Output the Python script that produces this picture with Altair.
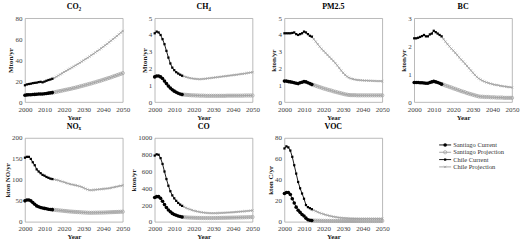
import altair as alt
import pandas as pd

YEARS_CUR = list(range(2000, 2015))
YEARS_PROJ = list(range(2014, 2051))
SERIES = ["Santiago Current", "Santiago Projection", "Chile Current", "Chile Projection"]
X_TICKS = [2000, 2010, 2020, 2030, 2040, 2050]

# ---------------- CO2 (Mton/yr)
CO2_SC = [6.5, 6.8, 7.0, 7.0, 7.2, 7.3, 7.4, 7.6, 7.7, 7.6, 7.9, 8.2, 8.5, 8.7, 9.0]
CO2_SP = [9.0, 9.3, 9.7, 10.1, 10.5, 10.9, 11.3, 11.7, 12.1, 12.5, 12.9, 13.4, 13.8, 14.3,
          14.8, 15.3, 15.8, 16.3, 16.8, 17.3, 17.8, 18.4, 18.9, 19.5, 20.0, 20.6, 21.2, 21.8,
          22.4, 23.0, 23.6, 24.3, 24.9, 25.6, 26.2, 26.9, 27.6]
CO2_CC = [16.0, 16.8, 17.2, 17.5, 18.0, 18.3, 18.5, 19.0, 19.3, 18.8, 19.5, 20.3, 21.0, 21.5, 22.2]
CO2_CP = [22.2, 23.0, 24.1, 25.2, 26.3, 27.4, 28.6, 29.7, 30.8, 31.8, 32.9, 34.0, 35.1, 36.2,
          37.4, 38.6, 39.8, 41.0, 42.2, 43.4, 44.7, 46.0, 47.3, 48.6, 49.9, 51.3, 52.7, 54.1,
          55.5, 57.0, 58.5, 60.0, 61.5, 63.0, 64.6, 66.2, 67.8]

# ---------------- CH4 (Mton/yr)
CH4_SC = [1.50, 1.55, 1.55, 1.50, 1.40, 1.25, 1.10, 0.95, 0.83, 0.73, 0.65, 0.58, 0.52, 0.48, 0.45]
CH4_SP = [0.45, 0.44, 0.43, 0.42, 0.41, 0.40, 0.40, 0.39, 0.39, 0.38, 0.38, 0.38,
          0.37, 0.37, 0.37, 0.37, 0.37, 0.37, 0.37, 0.37, 0.37, 0.37, 0.37,
          0.38, 0.38, 0.38, 0.38, 0.38, 0.38, 0.38, 0.38, 0.38,
          0.39, 0.39, 0.39, 0.39, 0.39]
CH4_CC = [4.10, 4.20, 4.15, 4.00, 3.75, 3.45, 3.05, 2.65, 2.30, 2.05, 1.90, 1.78, 1.70, 1.63, 1.57]
CH4_CP = [1.57, 1.53, 1.49, 1.46, 1.43, 1.41, 1.39, 1.38, 1.37, 1.36, 1.37, 1.38, 1.39, 1.41,
          1.42, 1.44, 1.45, 1.47, 1.48, 1.50, 1.51, 1.53, 1.54, 1.56, 1.57, 1.59, 1.60, 1.62,
          1.63, 1.65, 1.67, 1.68, 1.70, 1.72, 1.74, 1.76, 1.78]

# ---------------- PM2.5 (kton/yr)
PM_SC = [1.25, 1.25, 1.22, 1.20, 1.18, 1.15, 1.12, 1.10, 1.15, 1.18, 1.22, 1.20, 1.15, 1.10, 1.05]
PM_SP = [1.05, 1.01, 0.97, 0.93, 0.89, 0.85, 0.81, 0.78, 0.74, 0.71, 0.68, 0.64, 0.61, 0.58,
         0.55, 0.52, 0.49, 0.46, 0.44, 0.42, 0.41, 0.41, 0.41, 0.40, 0.40, 0.40, 0.40, 0.40,
         0.40, 0.40, 0.40, 0.40, 0.40, 0.40, 0.40, 0.40, 0.40]
PM_CC = [4.10, 4.10, 4.10, 4.10, 4.12, 4.15, 4.05, 4.00, 4.05, 4.10, 4.20, 4.15, 4.05, 3.95, 3.90]
PM_CP = [3.90, 3.75, 3.60, 3.45, 3.30, 3.17, 3.05, 2.93, 2.81, 2.69, 2.57, 2.45, 2.32, 2.18,
         2.03, 1.88, 1.74, 1.62, 1.52, 1.45, 1.40, 1.37, 1.34, 1.32, 1.31, 1.30, 1.29, 1.28,
         1.28, 1.27, 1.27, 1.26, 1.26, 1.25, 1.25, 1.25, 1.24]

# ---------------- BC (kton/yr)
BC_SC = [0.70, 0.70, 0.70, 0.69, 0.69, 0.68, 0.67, 0.67, 0.70, 0.72, 0.74, 0.72, 0.70, 0.67, 0.64]
BC_SP = [0.64, 0.62, 0.59, 0.57, 0.54, 0.52, 0.49, 0.47, 0.44, 0.42, 0.39, 0.37, 0.35, 0.32,
         0.30, 0.28, 0.26, 0.24, 0.22, 0.20, 0.19, 0.19, 0.18, 0.18, 0.18, 0.17, 0.17, 0.17,
         0.16, 0.16, 0.16, 0.16, 0.15, 0.15, 0.15, 0.15, 0.15]
BC_CC = [2.28, 2.28, 2.30, 2.33, 2.36, 2.40, 2.35, 2.35, 2.42, 2.45, 2.55, 2.50, 2.45, 2.40, 2.35]
BC_CP = [2.35, 2.25, 2.16, 2.07, 1.99, 1.91, 1.84, 1.76, 1.68, 1.60, 1.52, 1.45, 1.37, 1.29,
         1.21, 1.13, 1.05, 0.97, 0.90, 0.84, 0.80, 0.76, 0.73, 0.70, 0.68, 0.66, 0.64, 0.62,
         0.61, 0.60, 0.58, 0.57, 0.56, 0.55, 0.54, 0.53, 0.52]

# ---------------- NOx (kton NO/yr)
NOX_SC = [50, 52, 52, 50, 46, 42, 38, 36, 34, 33, 32, 31, 30, 29.5, 29]
NOX_SP = [29, 28.5, 28, 27.5, 27, 26.5, 26, 25.5, 25, 24.5, 24.2, 23.8, 23.5, 23.2, 22.9,
          22.6, 22.3, 22.0, 21.7, 21.5, 21.5, 21.6, 21.7, 21.8, 21.9, 22.0, 22.1, 22.3, 22.5,
          22.7, 22.9, 23.1, 23.3, 23.5, 23.7, 23.9, 24.1]
NOX_CC = [153, 155, 155, 150, 142, 135, 125, 120, 116, 112, 110, 107, 105, 103, 102]
NOX_CP = [102, 101, 100, 99, 97.5, 96, 94.5, 93, 91.5, 90, 89, 88, 87, 86, 84.5, 83, 81, 79,
          77, 75.5, 75.5, 76, 76.5, 77, 77.5, 78, 78.5, 79, 79.5, 80, 81, 82, 83, 84, 85, 86, 87]

# ---------------- CO (kton/yr)
CO_SC = [290, 300, 300, 280, 245, 205, 170, 140, 120, 100, 88, 78, 70, 63, 57]
CO_SP = [57, 55, 53, 51, 50, 49, 48, 47, 46.5, 46, 45.5, 45, 45, 45, 45, 45, 45, 45.5, 46,
         46.5, 47, 47.5, 48, 48.5, 49, 49.5, 50, 50.5, 51, 52, 52.5, 53, 54, 54.5, 55, 56, 57]
CO_CC = [790, 805, 800, 760, 690, 600, 510, 430, 365, 315, 280, 250, 225, 205, 190]
CO_CP = [190, 178, 167, 157, 148, 140, 133, 127, 122, 117, 113, 110, 107, 105, 104, 103, 103,
         103, 104, 105, 106, 107, 108, 110, 111, 113, 114, 116, 118, 120, 122, 124, 126, 128,
         130, 133, 135]

# ---------------- VOC (kton C/yr)
VOC_SC = [27, 28, 28, 26, 22, 18, 14, 11, 9, 7, 5.5, 3.5, 2, 1.5, 1.2]
VOC_SP = [1.2, 1.15, 1.1, 1.05, 1.0, 0.95, 0.92, 0.9, 0.88, 0.86, 0.85, 0.84, 0.83, 0.82,
          0.81, 0.8, 0.8, 0.8, 0.8, 0.8, 0.8, 0.8, 0.8, 0.8, 0.8, 0.8, 0.8, 0.8, 0.8, 0.8,
          0.8, 0.8, 0.8, 0.8, 0.8, 0.8, 0.8]
VOC_CC = [70, 72, 71, 68, 62, 54, 46, 38, 32, 27, 22, 16, 14, 13, 12]
VOC_CP = [12, 11, 10.1, 9.3, 8.6, 7.9, 7.3, 6.7, 6.2, 5.7, 5.3, 4.9, 4.6, 4.3, 4.0, 3.8, 3.6,
          3.5, 3.4, 3.3, 3.2, 3.2, 3.1, 3.1, 3.0, 3.0, 3.0, 3.0, 3.0, 3.0, 3.0, 3.0, 3.0, 3.0,
          3.0, 3.0, 3.0]

PANELS = [
    ("CO₂", "Mton/yr", 80, [0, 20, 40, 60, 80], CO2_SC, CO2_SP, CO2_CC, CO2_CP),
    ("CH₄", "Mton/yr", 5, [0, 1, 2, 3, 4, 5], CH4_SC, CH4_SP, CH4_CC, CH4_CP),
    ("PM2.5", "kton/yr", 5, [0, 1, 2, 3, 4, 5], PM_SC, PM_SP, PM_CC, PM_CP),
    ("BC", "kton/yr", 3, [0, 1, 2, 3], BC_SC, BC_SP, BC_CC, BC_CP),
    ("NOₓ", "kton NO/yr", 200, [0, 50, 100, 150, 200], NOX_SC, NOX_SP, NOX_CC, NOX_CP),
    ("CO", "kton/yr", 1000, [0, 200, 400, 600, 800, 1000], CO_SC, CO_SP, CO_CC, CO_CP),
    ("VOC", "kton C/yr", 80, [0, 20, 40, 60, 80], VOC_SC, VOC_SP, VOC_CC, VOC_CP),
]

FONT = "Liberation Serif"
GRAY = "#9e9e9e"
BLACK = "#000000"
W, H = 98, 84
SERIES_COLORS = [BLACK, GRAY, BLACK, GRAY]

# marker styles per series (shape, filled, colour, size)
MARKERS = {
    SERIES[1]: dict(shape="circle", filled=False, color=GRAY, size=11, strokeWidth=0.7),
    SERIES[3]: dict(shape="M-1,-1L1,1M-1,1L1,-1", filled=False, color=GRAY, size=5, strokeWidth=0.7),
    SERIES[0]: dict(shape="circle", filled=True, color=BLACK, size=13),
    SERIES[2]: dict(shape="square", filled=True, color=BLACK, size=5),
}


def marker_layers(base):
    return [base.transform_filter(alt.datum.series == s).mark_point(opacity=1, **style)
            for s, style in MARKERS.items()]


def panel(title, ytitle, ymax, yticks, sc, sp, cc, cp):
    rows = []
    for years, vals, s in [(YEARS_CUR, sc, SERIES[0]), (YEARS_PROJ, sp, SERIES[1]),
                           (YEARS_CUR, cc, SERIES[2]), (YEARS_PROJ, cp, SERIES[3])]:
        for yr, v in zip(years, vals):
            rows.append({"year": yr, "value": v, "series": s})
    df = pd.DataFrame(rows)

    x = alt.X("year:Q", scale=alt.Scale(domain=[2000, 2050], nice=False),
              axis=alt.Axis(values=X_TICKS, format="d", title="Year"))
    y = alt.Y("value:Q", scale=alt.Scale(domain=[0, ymax], nice=False),
              axis=alt.Axis(values=yticks, format="d", title=ytitle))
    base = alt.Chart(df).encode(x=x, y=y)

    lines = base.mark_line(strokeWidth=0.9).encode(
        color=alt.Color("series:N", scale=alt.Scale(domain=SERIES, range=SERIES_COLORS), legend=None),
        detail="series:N",
    )
    return alt.layer(lines, *marker_layers(base)).properties(
        width=W, height=H,
        title=alt.TitleParams(title, anchor="middle", font=FONT, fontSize=8, fontWeight="bold",
                              offset=3, color=BLACK),
    )


def legend_cell():
    ldf = pd.DataFrame({"series": SERIES})
    ly = alt.Y("series:N", scale=alt.Scale(type="point", domain=SERIES, range=[7, 29], padding=0),
               axis=None)
    lb = alt.Chart(ldf).encode(y=ly)
    rules = lb.mark_rule(strokeWidth=0.9).encode(
        x=alt.value(25), x2=alt.value(37),
        color=alt.Color("series:N", scale=alt.Scale(domain=SERIES, range=SERIES_COLORS), legend=None),
    )
    pts = [lb.transform_filter(alt.datum.series == s).mark_point(opacity=1, **style).encode(x=alt.value(31))
           for s, style in MARKERS.items()]
    labels = lb.mark_text(align="left", baseline="middle", font=FONT, fontSize=6.5,
                          color="#333333").encode(x=alt.value(39), text="series:N")
    return alt.layer(rules, *pts, labels).properties(
        width=W, height=H, view=alt.ViewBackground(stroke="transparent"))


charts = [panel(*p) for p in PANELS] + [legend_cell()]

chart = alt.concat(*charts, columns=4, spacing={"row": 36, "column": 32}, bounds="flush").properties(
    padding={"left": 3, "top": 2, "right": 0, "bottom": 0}
).configure_view(
    stroke="#a8a8a8", strokeWidth=0.8
).configure_axis(
    labelFont=FONT, labelFontSize=7, labelColor="#404040", labelPadding=3, labelFlush=False,
    titleFont=FONT, titleFontSize=7, titleFontWeight="bold", titleColor="#202020", titlePadding=1,
    domain=False, ticks=False, grid=False,
)

chart.save("out.html", embed_options={"renderer": "svg", "actions": False})
